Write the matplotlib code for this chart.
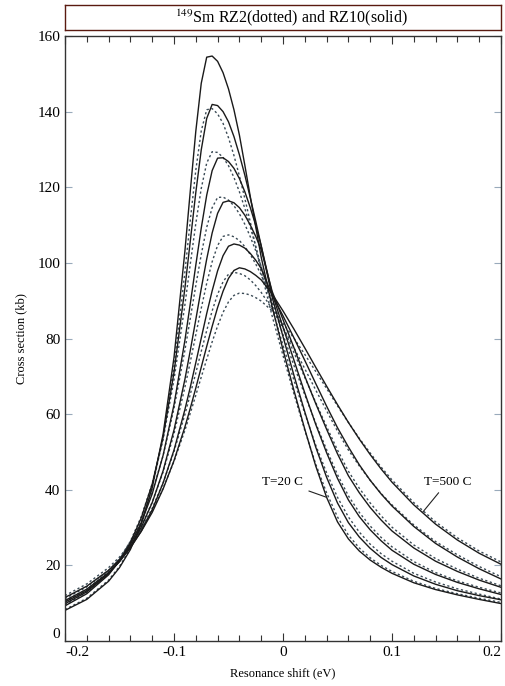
import numpy as np
import matplotlib
matplotlib.use("Agg")
import matplotlib.pyplot as plt

plt.rcParams['font.family'] = ['Liberation Serif', 'DejaVu Serif']
plt.rcParams['mathtext.fontset'] = 'stix'

# resonance shift grid (eV)
shift = [-0.20, -0.18, -0.16, -0.15, -0.14, -0.13, -0.12, -0.11, -0.10, -0.09,
         -0.085, -0.08, -0.075, -0.07, -0.065, -0.06, -0.055, -0.05, -0.045, -0.04,
         -0.035, -0.03, -0.025, -0.02, -0.01, 0.00, 0.01, 0.02, 0.03, 0.04,
         0.05, 0.06, 0.07, 0.08, 0.09, 0.10, 0.12, 0.14, 0.16, 0.18, 0.20]

# RZ10 (solid), lowest to highest temperature
rz10 = [
    [8.1, 11.0, 15.8, 19.4, 24.2, 31.0, 40.6, 54.7, 75.0, 103.1,
     119.2, 134.8, 147.5, 154.4, 154.7, 153.3, 150.3, 146.0, 140.5, 133.8,
     125.8, 117.5, 109.5, 101.5, 88.5, 77.0, 66.3, 56.0, 46.3, 38.0,
     31.5, 27.0, 23.8, 21.4, 19.5, 17.9, 15.4, 13.6, 12.2, 11.0, 9.9],
    [9.3, 12.5, 17.5, 21.2, 26.0, 32.6, 41.5, 53.9, 71.0, 93.3,
     105.9, 118.6, 129.9, 138.2, 141.9, 141.6, 140.0, 137.3, 133.4, 128.6,
     123.2, 117.2, 111.0, 104.5, 91.0, 80.5, 70.3, 60.6, 51.3, 43.3,
     36.5, 31.3, 27.5, 24.5, 22.1, 20.2, 17.2, 15.0, 13.3, 12.0, 10.9],
    [9.85, 13.0, 17.8, 21.2, 25.6, 31.3, 38.9, 49.1, 62.5, 79.5,
     89.3, 99.4, 109.2, 117.9, 124.4, 127.7, 127.8, 126.8, 125.0, 122.3,
     118.8, 114.6, 109.9, 104.5, 92.0, 83.0, 74.3, 65.6, 57.3, 49.8,
     43.0, 37.3, 32.9, 29.4, 26.5, 24.0, 20.3, 17.6, 15.5, 13.8, 12.3],
    [10.3, 13.3, 17.9, 21.0, 25.0, 30.1, 36.6, 45.0, 55.8, 69.2,
     76.9, 85.0, 93.2, 101.0, 107.9, 113.1, 116.0, 116.4, 115.9, 114.6,
     112.6, 110.0, 107.0, 103.5, 92.5, 85.0, 77.6, 70.0, 62.8, 56.0,
     49.5, 43.7, 39.2, 35.3, 32.0, 29.1, 24.6, 21.1, 18.4, 16.1, 14.2],
    [10.7, 13.7, 18.1, 21.0, 24.6, 29.1, 34.7, 41.8, 50.5, 61.2,
     67.2, 73.6, 80.1, 86.6, 92.6, 97.9, 101.9, 104.4, 105.0, 104.7,
     103.9, 102.5, 100.7, 98.5, 91.5, 86.0, 80.2, 74.2, 68.1, 62.1,
     56.4, 51.3, 46.6, 42.5, 38.9, 35.7, 30.3, 25.8, 22.2, 19.1, 16.4],
    [11.5, 14.5, 18.7, 21.5, 24.8, 29.0, 34.0, 40.2, 47.7, 56.6,
     61.6, 66.9, 72.4, 77.9, 83.2, 88.2, 92.5, 95.9, 98.0, 98.7,
     98.4, 97.7, 96.7, 95.5, 91.8, 87.3, 82.5, 77.5, 72.4, 67.4,
     62.5, 57.8, 53.4, 49.3, 45.5, 42.0, 36.0, 30.9, 26.7, 23.2, 20.3],
]

# RZ2 (dotted), same temperatures
rz2 = [
    [8.3, 11.3, 16.1, 19.7, 24.5, 31.1, 40.5, 53.8, 72.7, 97.6,
     111.4, 124.5, 134.9, 140.5, 140.8, 139.4, 136.9, 133.1, 128.4, 123.0,
     117.0, 110.8, 104.2, 97.6, 86.0, 75.5, 65.4, 55.7, 46.8, 39.2,
     32.8, 28.0, 24.6, 22.0, 20.0, 18.4, 15.8, 13.9, 12.5, 11.3, 10.2],
    [9.6, 12.85, 17.9, 21.6, 26.4, 32.9, 41.6, 53.3, 69.1, 88.9,
     99.8, 110.4, 119.7, 126.4, 129.4, 129.2, 127.9, 125.7, 122.6, 118.8,
     114.4, 109.5, 104.3, 99.0, 88.0, 78.2, 69.0, 60.2, 51.8, 44.5,
     38.0, 32.8, 28.8, 25.6, 23.1, 21.1, 17.9, 15.6, 13.8, 12.4, 11.1],
    [10.3, 13.5, 18.4, 21.9, 26.3, 31.9, 39.4, 49.0, 61.5, 76.9,
     85.4, 94.0, 102.2, 109.4, 114.6, 117.3, 117.4, 116.6, 115.1, 113.0,
     110.2, 106.9, 103.2, 99.0, 89.5, 81.0, 72.9, 65.1, 57.6, 50.6,
     44.0, 38.4, 34.0, 30.4, 27.4, 24.9, 21.0, 18.1, 15.9, 14.2, 12.7],
    [10.6, 13.7, 18.3, 21.5, 25.4, 30.4, 36.7, 44.7, 54.8, 67.1,
     73.9, 81.0, 88.0, 94.6, 100.3, 104.6, 107.0, 107.4, 106.9, 105.9,
     104.3, 102.2, 99.7, 96.8, 89.8, 83.0, 76.3, 69.7, 63.1, 56.7,
     50.5, 44.9, 40.4, 36.5, 33.1, 30.1, 25.4, 21.8, 19.0, 16.6, 14.6],
    [11.2, 14.3, 18.7, 21.6, 25.2, 29.6, 35.1, 41.8, 50.1, 59.9,
     65.3, 70.9, 76.6, 82.1, 87.3, 91.7, 95.0, 97.0, 97.5, 97.2,
     96.6, 95.5, 94.0, 92.2, 87.8, 82.9, 77.6, 72.0, 66.4, 60.9,
     55.5, 50.5, 46.3, 42.5, 39.0, 36.0, 30.7, 26.3, 22.8, 19.7, 17.0],
    [12.0, 15.1, 19.4, 22.2, 25.5, 29.6, 34.5, 40.4, 47.5, 55.7,
     60.3, 65.0, 69.8, 74.5, 79.1, 83.3, 86.9, 89.7, 91.4, 92.0,
     91.9, 91.5, 90.8, 89.9, 87.3, 84.0, 80.1, 75.8, 71.3, 66.8,
     62.2, 57.8, 53.6, 49.7, 46.0, 42.6, 36.6, 31.5, 27.3, 23.8, 20.9],
]

xticks = [-0.2, -0.1, 0.0, 0.1, 0.2]
xticklabels = ['-0.2', '-0.1', '0', '0.1', '0.2']
yticks = [0, 20, 40, 60, 80, 100, 120, 140, 160]

W, H = 505, 686
fig = plt.figure(figsize=(W / 100, H / 100), dpi=100)
ax = fig.add_axes([65 / W, 45 / H, 436 / W, 605 / H])

for ys in rz2:
    ax.plot(shift, ys, color='#3a4a55', lw=1.0, ls=(0, (1.6, 1.8)))
for ys in rz10:
    ax.plot(shift, ys, color='#1a1a1a', lw=1.0)

ax.set_xlim(-0.2, 0.2)
ax.set_ylim(0, 160)
ax.set_xticks(xticks)
ax.set_xticklabels(xticklabels)
ax.set_xticks(np.arange(-0.2, 0.2001, 0.02), minor=True)
ax.set_yticks(yticks)
ax.tick_params(which='both', direction='in', top=True, right=True,
               labelsize=11, color='#333333', width=0.8)
ax.tick_params(which='major', length=6)
ax.tick_params(which='minor', length=4)
ax.tick_params(axis='y', which='major', length=5, color='#9ab')
for s in ax.spines.values():
    s.set_color('#333333')
    s.set_linewidth(1.0)

xl = ax.get_xticklabels()
xl[0].set_ha('left')
xl[-1].set_ha('right')
ax.get_yticklabels()[0].set_va('bottom')

ax.set_xlabel('Resonance shift (eV)', fontsize=9, labelpad=6)
ax.set_ylabel('Cross section (kb)', fontsize=9, labelpad=7)

ax.annotate('T=20 C', xy=(0.040, 38.0), xytext=(0.0, 42.1), fontsize=9.5,
            ha='center', va='center',
            arrowprops=dict(arrowstyle='-', lw=0.8, color='#222222', shrinkA=2, shrinkB=0))
ax.annotate('T=500 C', xy=(0.128, 34.0), xytext=(0.151, 42.1), fontsize=9.5,
            ha='center', va='center',
            arrowprops=dict(arrowstyle='-', lw=0.8, color='#222222', shrinkA=2, shrinkB=0))

# title box
tax = fig.add_axes([65 / W, (H - 30) / H, 436 / W, 25 / H])
tax.set_xticks([])
tax.set_yticks([])
for s in tax.spines.values():
    s.set_color('#5a1a10')
    s.set_linewidth(1.0)
tax.text(0.52, 0.5, r'$^{149}$Sm RZ2(dotted) and RZ10(solid)', ha='center', va='center',
         fontsize=11.5, transform=tax.transAxes)

fig.savefig('out.png', dpi=100)
